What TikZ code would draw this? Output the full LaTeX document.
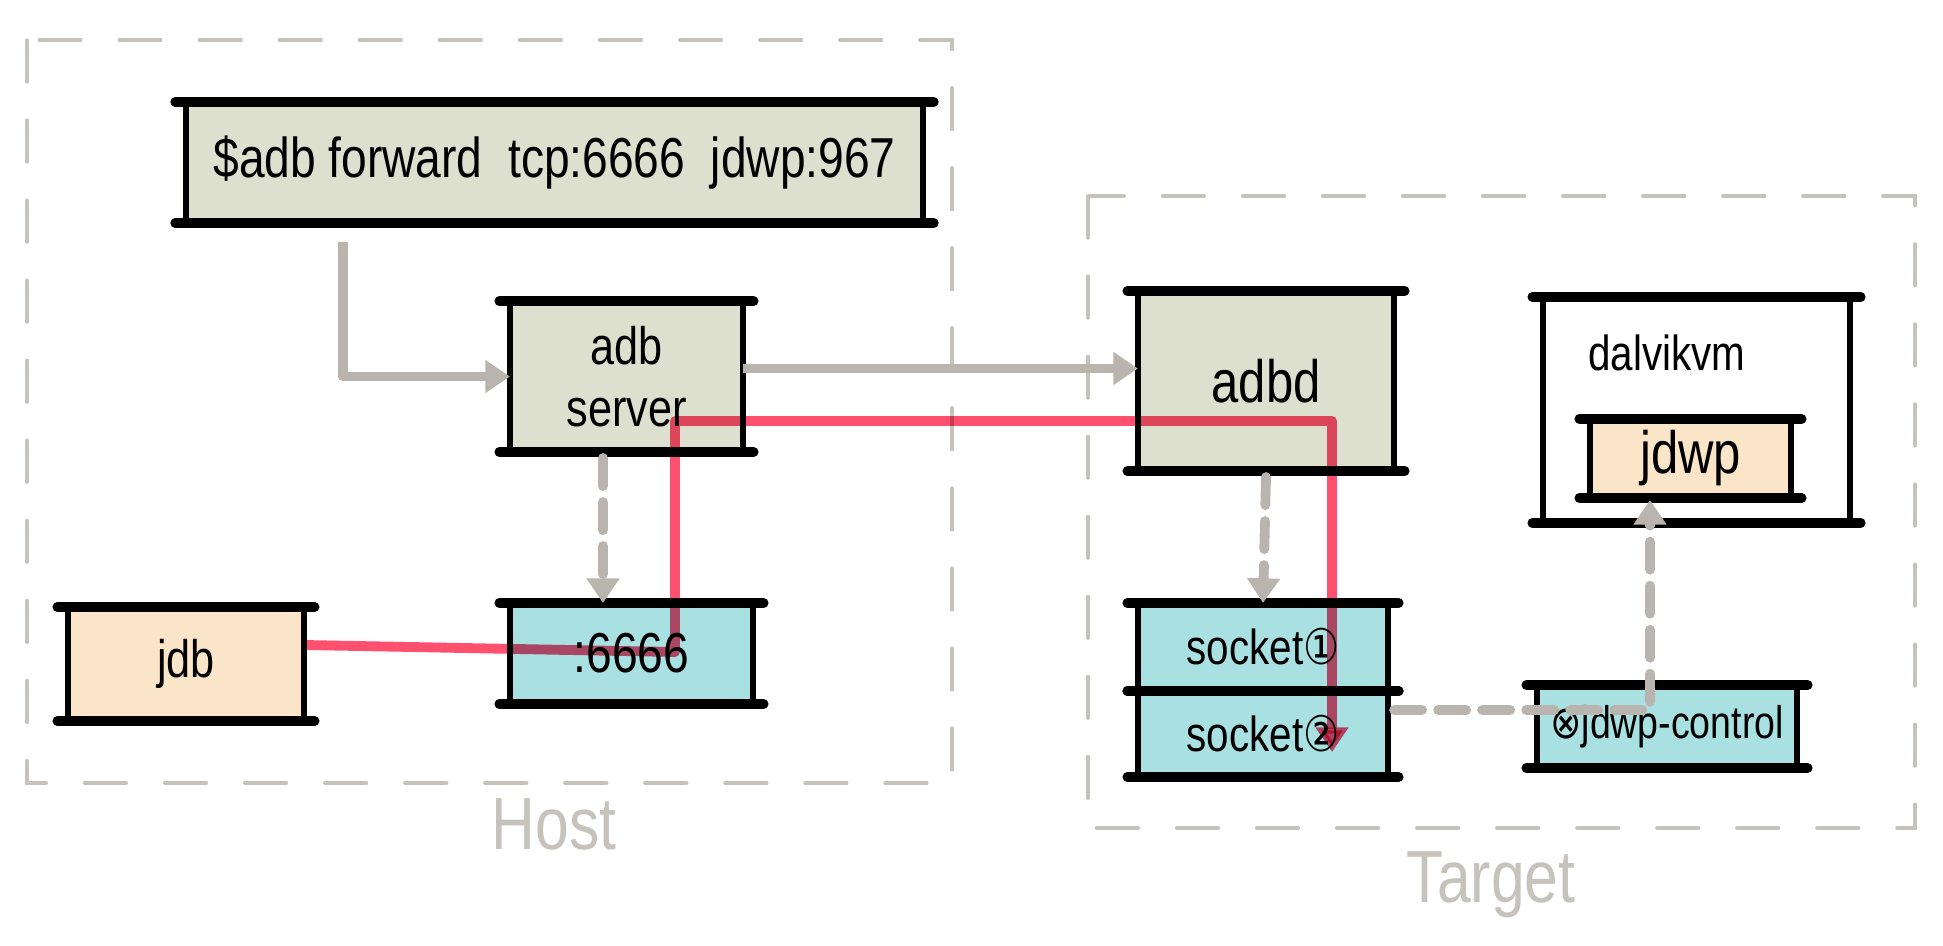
\documentclass[tikz,border=0pt]{standalone}
\usepackage{fontspec}
\setmainfont{Liberation Sans}[FakeStretch=0.82]
\newfontfamily\symfont{DejaVu Sans}[FakeStretch=0.82]
\usetikzlibrary{arrows.meta}
\definecolor{sage}{HTML}{DDE0CF}
\definecolor{peach}{HTML}{FAE5C8}
\definecolor{aqua}{HTML}{A9E1E3}
\definecolor{wirered}{HTML}{FF5070}
\definecolor{flowgray}{HTML}{B9B5AE}
\definecolor{grpgray}{HTML}{C6C3BC}
\newcommand\sketchbox[1]{%
  \draw[rimh] ([xshift=-3pt]#1.north west) -- ([xshift=3pt]#1.north east);
  \draw[rimh] ([xshift=-3pt]#1.south west) -- ([xshift=3pt]#1.south east);
  \draw[rimv] (#1.north west) -- (#1.south west);
  \draw[rimv] (#1.north east) -- (#1.south east);
}
\begin{document}
\begin{tikzpicture}[x=0.01cm, y=-0.01cm,
  grp/.style={draw=grpgray, line width=0.9pt, dash pattern=on 0.42cm off 0.38cm, line cap=round},
  box/.style={inner sep=0pt, outer sep=0pt, align=center},
  rimh/.style={line width=2.8pt, line cap=round},
  rimv/.style={line width=1.8pt, line cap=round},
  flow/.style={draw=flowgray, line width=2.8pt, line join=round, -{Triangle[length=7pt,width=9pt]}},
  flowdash/.style={flow, dash pattern=on 0.28cm off 0.16cm, line cap=round},
  wire/.style={draw=wirered, line width=2.8pt, line join=round, blend mode=multiply, -{Triangle[length=7pt,width=9pt]}},
  grplbl/.style={text=grpgray, font=\fontsize{21}{24}\selectfont}]
\useasboundingbox (0,0) rectangle (1943,946);
%host and target areas
\draw[grp] (27,40) rectangle (952,783);
\draw[grp] (1088,196) rectangle (1915,828);
\node[grplbl] (hostlbl) at (554,824) {Host};
\node[grplbl] (targetlbl) at (1491,885) {Target};
%boxes on the host
\node[box, fill=sage, minimum width=7.37cm, minimum height=1.21cm, font=\fontsize{16}{19}\selectfont] (cmd) at (554.5,162.5) {\$adb forward\ \ tcp:6666\ \ jdwp:967};
\node[box, fill=sage, minimum width=2.33cm, minimum height=1.51cm, font=\fontsize{15}{17.6}\selectfont] (server) at (626.5,376.5) {adb\\server};
\node[box, fill=peach, minimum width=2.36cm, minimum height=1.14cm, font=\fontsize{15}{18}\selectfont] (jdb) at (186,664) {jdb};
\node[box, fill=aqua, minimum width=2.43cm, minimum height=1.01cm, font=\fontsize{16}{19}\selectfont] (port) at (631.5,653.5) {:6666};
%boxes on the target
\node[box, fill=sage, minimum width=2.56cm, minimum height=1.80cm, font=\fontsize{17}{20}\selectfont] (adbd) at (1266,381) {adbd};
\node[box, fill=white, minimum width=3.07cm, minimum height=2.26cm] (dalvik) at (1696.5,410) {};
\node[box, font=\fontsize{14}{16}\selectfont] (dvmlbl) at (1667,353) {dalvikvm};
\node[box, fill=peach, minimum width=2.01cm, minimum height=0.79cm, font=\fontsize{17}{20}\selectfont] (jdwp) at (1690.5,458.5) {jdwp};
\node[box, fill=aqua, minimum width=2.50cm, minimum height=0.88cm, font=\fontsize{14}{17}\selectfont] (sock1) at (1263,647) {socket{\symfont ①}};
\node[box, fill=aqua, minimum width=2.50cm, minimum height=0.86cm, font=\fontsize{14}{17}\selectfont] (sock2) at (1263,734) {socket{\symfont ②}};
\node[box, fill=aqua, minimum width=2.60cm, minimum height=0.83cm, font=\fontsize{13}{16}\selectfont] (ctrl) at (1667,726.5) {{\symfont ⊗}jdwp-control};
%sketchy borders
\sketchbox{cmd}
\sketchbox{server}
\sketchbox{jdb}
\sketchbox{port}
\sketchbox{adbd}
\sketchbox{dalvik}
\sketchbox{jdwp}
\sketchbox{sock1}
\sketchbox{sock2}
\sketchbox{ctrl}
%gray flows
\coordinate (F1) at (343,242);
\coordinate (F2) at (603,0);
\coordinate (F3) at (1650,710);
\draw[flow] (F1) |- (server.west);
\draw[flow] ([yshift=0.08cm]server.east) -- ([yshift=0.08cm]server.east -| adbd.west);
\draw[flowdash] ([yshift=-0.06cm]server.south -| F2) -- (port.north -| F2);
\draw[flowdash] ([yshift=-0.06cm]adbd.south) -- (sock1.north);
\draw[flowdash] ([xshift=0.06cm]sock2.east |- F3) -- (F3) -- ([yshift=-0.02cm]jdwp.south -| F3);
%red path
\coordinate (R1) at (675,652);
\coordinate (R2) at (675,421);
\coordinate (R3) at (1332,421);
\coordinate (R4) at (1332,752);
\draw[wire] ([yshift=0.19cm]jdb.east) -- (R1) -- (R2) -- (R3) -- (R4);
\end{tikzpicture}
\end{document}
